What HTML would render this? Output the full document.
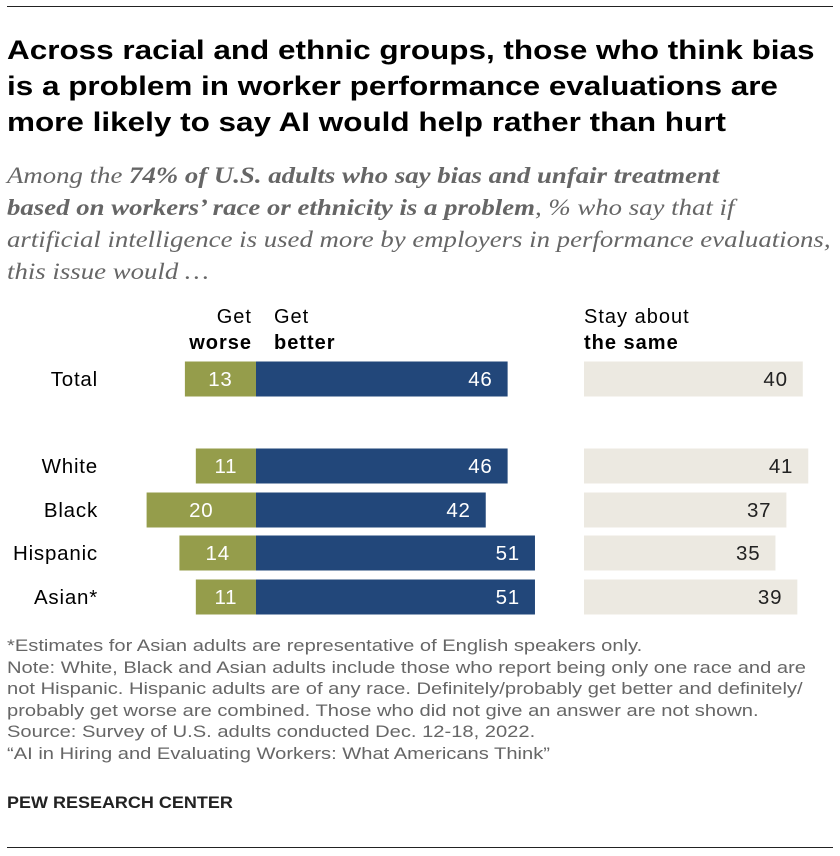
<!DOCTYPE html>
<html><head><meta charset="utf-8"><style>
body{margin:0;width:840px;height:856px;background:#fff;position:relative;font-family:"Liberation Sans",sans-serif;overflow:hidden}
.t{position:absolute;white-space:nowrap;transform-origin:0 0}
</style></head><body>
<div style="position:absolute;left:7px;top:6px;width:826px;height:1px;background:#222"></div>
<div class="t" style="left:7px;top:32px;font-size:27px;font-weight:bold;line-height:36px;color:#000;transform:scaleX(1.165)">Across racial and ethnic groups, those who think bias<br>is a problem in worker performance evaluations are<br>more likely to say AI would help rather than hurt</div>
<div class="t" style="left:7px;top:160px;font-family:'Liberation Serif',serif;font-style:italic;font-size:23px;line-height:32px;color:#666;transform:scaleX(1.165)">Among the <b>74% of U.S. adults who say bias and unfair treatment<br>based on workers’ race or ethnicity is a problem</b>, % who say that if<br>artificial intelligence is used more by employers in performance evaluations,<br>this issue would …</div>
<svg id="chart" style="position:absolute;left:0;top:0" width="840" height="856" font-family="Liberation Sans, sans-serif"></svg>
<div class="t" style="left:7px;top:636px;font-size:16.5px;line-height:21.5px;color:#666;transform:scaleX(1.22)">*Estimates for Asian adults are representative of English speakers only.<br>Note: White, Black and Asian adults include those who report being only one race and are<br>not Hispanic. Hispanic adults are of any race. Definitely/probably get better and definitely/<br>probably get worse are combined. Those who did not give an answer are not shown.<br>Source: Survey of U.S. adults conducted Dec. 12-18, 2022.<br>“AI in Hiring and Evaluating Workers: What Americans Think”</div>
<div class="t" style="left:7px;top:794px;font-size:16.5px;font-weight:bold;color:#222;transform:scaleX(1.09)">PEW RESEARCH CENTER</div>
<div style="position:absolute;left:7px;top:847px;width:826px;height:1px;background:#222"></div>
<script>
const categories=["Total","White","Black","Hispanic","Asian*"];
const worse=[13,11,20,14,11];
const better=[46,46,42,51,51];
const same=[40,41,37,35,39];
const rowY=[379,466,510,553,597];
const k=5.47,zero=256,sameX=584,bh=35;
const svg=document.getElementById('chart');
const NS='http://www.w3.org/2000/svg';
function mk(tag,a,txt){const e=document.createElementNS(NS,tag);for(const p in a)e.setAttribute(p,a[p]);if(txt!=null)e.textContent=txt;svg.appendChild(e);return e;}
function hdr(x,y,t,b,anchor,name){const e=mk('text',{x:x,y:y,'font-size':20,'letter-spacing':'1px','font-weight':b?'bold':'normal','text-anchor':anchor,fill:'#000'},t);}
hdr(252,323,'Get',false,'end','header-worse-1');hdr(252,349,'worse',true,'end','header-worse-2');
hdr(274,323,'Get',false,'start','header-better-1');hdr(274,349,'better',true,'start','header-better-2');
hdr(584,323,'Stay about',false,'start','header-same-1');hdr(584,349,'the same',true,'start','header-same-2');
const fs={'font-size':20.5,'letter-spacing':'0.8px'};
categories.forEach((c,i)=>{
 const cy=rowY[i],y=cy-bh/2;
 let e=mk('text',Object.assign({x:98,y:cy+7,'text-anchor':'end',fill:'#000'},fs),c);
 
 
 const ww=worse[i]*k;
 e=mk('rect',{x:zero-ww,y:y,width:ww,height:bh,fill:'#959d4b'});
 
 
 e=mk('text',Object.assign({x:zero-ww/2,y:cy+7,'text-anchor':'middle',fill:'#fff'},fs),worse[i]);
 
 
 const bw=better[i]*k;
 e=mk('rect',{x:zero,y:y,width:bw,height:bh,fill:'#22477a'});
 
 
 e=mk('text',Object.assign({x:zero+bw-15,y:cy+7,'text-anchor':'end',fill:'#fff'},fs),better[i]);
 
 
 const sw=same[i]*k;
 e=mk('rect',{x:sameX,y:y,width:sw,height:bh,fill:'#ece9e1'});
 
 
 e=mk('text',Object.assign({x:sameX+sw-15,y:cy+7,'text-anchor':'end',fill:'#222'},fs),same[i]);
 
 
});
</script>
</body></html>
